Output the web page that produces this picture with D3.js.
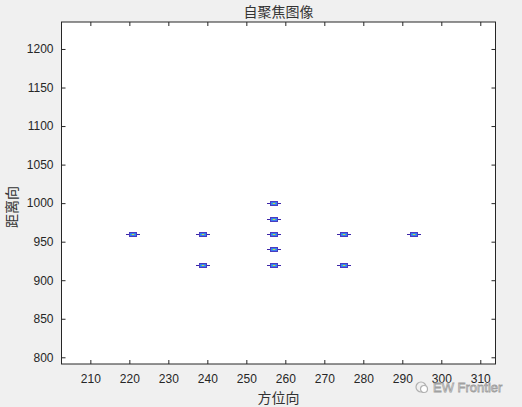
<!DOCTYPE html>
<html>
<head>
<meta charset="utf-8">
<script src="https://cdn.jsdelivr.net/npm/d3@7/dist/d3.min.js"></script>
<style>
  html, body { margin: 0; padding: 0; background: #f0f0f0; }
  svg text { font-family: "Liberation Sans", Arial, sans-serif; fill: #262626; }
  .cjk { font-family: "Noto Sans CJK SC", sans-serif; }
</style>
</head>
<body>
<div id="chart"></div>
<script>
// point targets after autofocus (azimuth, range)
var target_azimuth = [221, 239, 239, 257, 257, 257, 257, 257, 275, 275, 293];
var target_range   = [960, 960, 920, 1000, 980, 960, 940, 920, 960, 920, 960];

var x_ticks = [210, 220, 230, 240, 250, 260, 270, 280, 290, 300, 310];
var y_ticks = [800, 850, 900, 950, 1000, 1050, 1100, 1150, 1200];
var x_domain = [202.6, 313.9];
var y_domain = [791.3, 1235];

var WIDTH = 522, HEIGHT = 407,
    MARGIN = {left: 61.5, top: 22, right: 26.5, bottom: 43},
    AXIS_COLOR = '#262626';

// blob layers, outer to inner (pixel sizes, parula-like colours)
var BLOB_LAYERS = [
    {w: 14, h: 1, c: '#3e26a8'},
    {w: 8, h: 5, c: '#4a3cc0'},
    {w: 6, h: 3, c: '#3b7df0'},
    {w: 4, h: 1, c: '#2fc0c8'},
    {w: 2, h: 1, c: '#d8d040'}
];

var svg = d3.select('#chart').append('svg')
    .attr('width', WIDTH)
    .attr('height', HEIGHT);

var pw = WIDTH - MARGIN.left - MARGIN.right,
    ph = HEIGHT - MARGIN.top - MARGIN.bottom;

var x = d3.scaleLinear().domain(x_domain).range([MARGIN.left, MARGIN.left + pw]);
var y = d3.scaleLinear().domain(y_domain).range([MARGIN.top + ph, MARGIN.top]);

svg.append('rect')
    .attr('x', MARGIN.left).attr('y', MARGIN.top)
    .attr('width', pw).attr('height', ph)
    .attr('fill', '#ffffff');

// targets
var blobs = svg.append('g').attr('id', 'targets')
    .attr('shape-rendering', 'crispEdges')
    .selectAll('g')
    .data(d3.range(target_azimuth.length))
    .enter().append('g')
    .attr('transform', function(i){ return 'translate(' + Math.round(x(target_azimuth[i])) + ',' + Math.round(y(target_range[i])) + ')'; });

blobs.selectAll('rect')
    .data(BLOB_LAYERS)
    .enter().append('rect')
    .attr('x', function(d){ return -Math.floor(d.w / 2); })
    .attr('y', function(d){ return -Math.floor(d.h / 2); })
    .attr('width', function(d){ return d.w; })
    .attr('height', function(d){ return d.h; })
    .attr('fill', function(d){ return d.c; });

// axes (ticks inside, on all four sides)
var fmt = d3.format('d');
var gx = svg.append('g')
    .attr('transform', 'translate(0,' + (MARGIN.top + ph) + ')')
    .call(d3.axisBottom(x).tickValues(x_ticks).tickSizeInner(-4).tickSizeOuter(0).tickPadding(10).tickFormat(fmt));
var gx2 = svg.append('g')
    .attr('transform', 'translate(0,' + MARGIN.top + ')')
    .call(d3.axisTop(x).tickValues(x_ticks).tickSizeInner(-4).tickSizeOuter(0).tickFormat(''));
var gy = svg.append('g')
    .attr('transform', 'translate(' + MARGIN.left + ',0)')
    .call(d3.axisLeft(y).tickValues(y_ticks).tickSizeInner(-4).tickSizeOuter(0).tickPadding(8).tickFormat(fmt));
var gy2 = svg.append('g')
    .attr('transform', 'translate(' + (MARGIN.left + pw) + ',0)')
    .call(d3.axisRight(y).tickValues(y_ticks).tickSizeInner(-4).tickSizeOuter(0).tickFormat(''));

[gx, gx2, gy, gy2].forEach(function(g){
    g.select('.domain').remove();
    g.selectAll('line').attr('stroke', AXIS_COLOR);
    g.selectAll('text').attr('font-size', 12).attr('fill', AXIS_COLOR)
        .style('font-family', '"Liberation Sans", Arial, sans-serif');
});

svg.append('rect')
    .attr('x', MARGIN.left).attr('y', MARGIN.top)
    .attr('width', pw).attr('height', ph)
    .attr('fill', 'none').attr('stroke', AXIS_COLOR).attr('stroke-width', 1);

// labels
svg.append('text').attr('class', 'cjk')
    .attr('x', MARGIN.left + pw / 2).attr('y', 17)
    .attr('text-anchor', 'middle').attr('font-size', 14)
    .style('fill', '#333333')
    .text('自聚焦图像');
svg.append('text').attr('class', 'cjk')
    .attr('x', MARGIN.left + pw / 2).attr('y', 403)
    .attr('text-anchor', 'middle').attr('font-size', 14)
    .style('fill', '#333333')
    .text('方位向');
svg.append('text').attr('class', 'cjk')
    .attr('transform', 'translate(17,' + (MARGIN.top + ph / 2 + 14) + ')rotate(-90)')
    .attr('text-anchor', 'middle').attr('font-size', 14)
    .style('fill', '#333333')
    .text('距离向');

// watermark
var wm = svg.append('g').attr('transform', 'translate(421,387)');
wm.append('circle').attr('cx', 0).attr('cy', 0).attr('r', 5)
    .attr('fill', 'none').attr('stroke', '#b0b0b0').attr('stroke-width', 1.2);
wm.append('circle').attr('cx', 3).attr('cy', 2).attr('r', 3.5)
    .attr('fill', '#ffffff').attr('stroke', '#b0b0b0').attr('stroke-width', 1.2);
wm.append('text')
    .attr('x', 12).attr('y', 5)
    .attr('font-size', 13)
    .attr('stroke', '#a0a0a0').attr('stroke-width', 0.8)
    .style('fill', '#ffffff')
    .text('EW Frontier');
</script>
</body>
</html>
